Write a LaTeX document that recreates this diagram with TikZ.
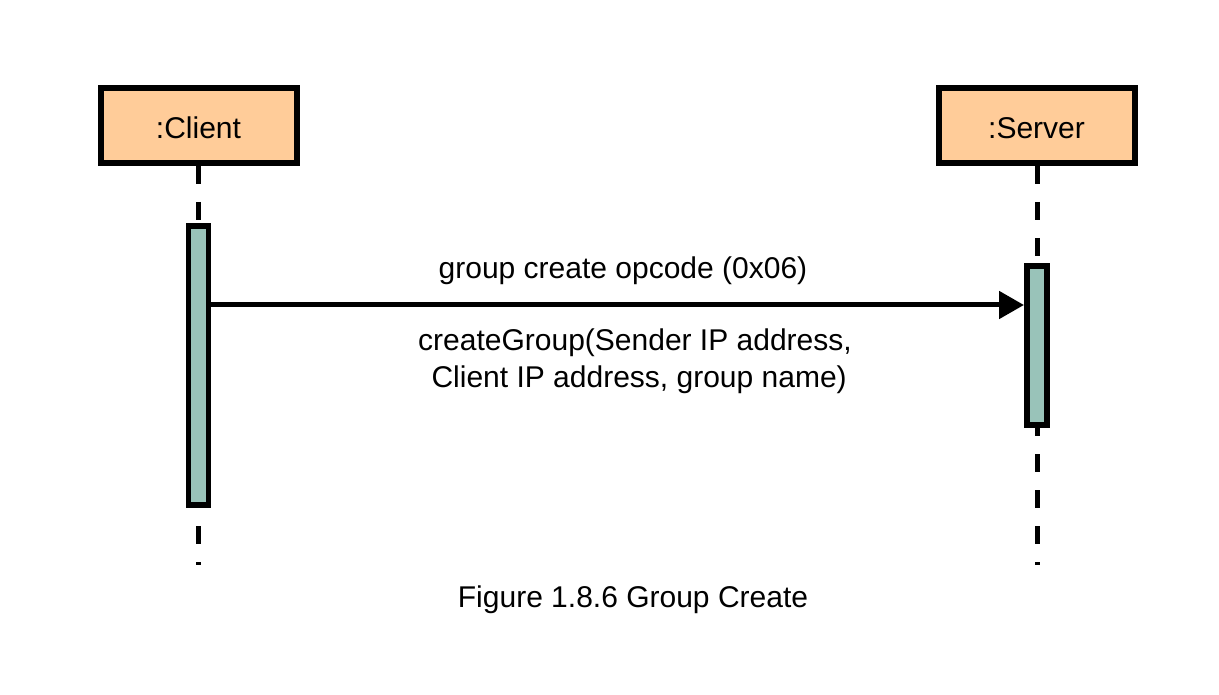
\documentclass[tikz,border=0pt]{standalone}
\usepackage{fontspec}
\setmainfont{Liberation Sans}
\usetikzlibrary{arrows.meta}
\definecolor{objfill}{HTML}{FFCC99}
\definecolor{barfill}{HTML}{99C3B9}
\begin{document}
\begin{tikzpicture}[x=1pt,y=-1pt,
  txt/.style={font=\fontsize{30}{37}\selectfont, inner sep=0pt},
  objbox/.style={draw=black, fill=objfill, line width=6pt, minimum width=196pt, minimum height=75pt, inner sep=0pt, txt, text height=27pt, text depth=0pt},
  lifeline/.style={line width=5pt, dash pattern=on 18pt off 18pt},
  actbar/.style={draw=black, fill=barfill, line width=5.5pt},
  msg/.style={line width=5pt, -{Triangle[length=25pt,width=27pt]}}
]
\useasboundingbox (0,0) rectangle (1219,695);
% lifelines
\coordinate (cl0) at (198.5,166);
\coordinate (cl1) at (198.5,565);
\coordinate (sl0) at (1037,166);
\coordinate (sl1) at (1037,565);
\draw[lifeline] (cl0) -- (cl1);
\draw[lifeline] (sl0) -- (sl1);
% objects
\node[objbox] (client) at (198.5,125.5) {:Client};
\node[objbox] (server) at (1036.5,125.5) {:Server};
% activation bars
\draw[actbar] (188.5,226) rectangle (208.5,505);
\draw[actbar] (1027,266) rectangle (1047,425);
\coordinate (msgstart) at (211,305);
\coordinate (msgend) at (1024,305);
\draw[msg] (msgstart) -- (msgend);
% labels
\node[txt] (lab1) at (623,270.5) {group create opcode (0x06)};
\node[txt, align=center] (lab2) at (635,361) {createGroup(Sender IP address,\\ \ Client IP address, group name)};
\node[txt] (cap) at (633,599.5) {Figure 1.8.6 Group Create};
\end{tikzpicture}
\end{document}
